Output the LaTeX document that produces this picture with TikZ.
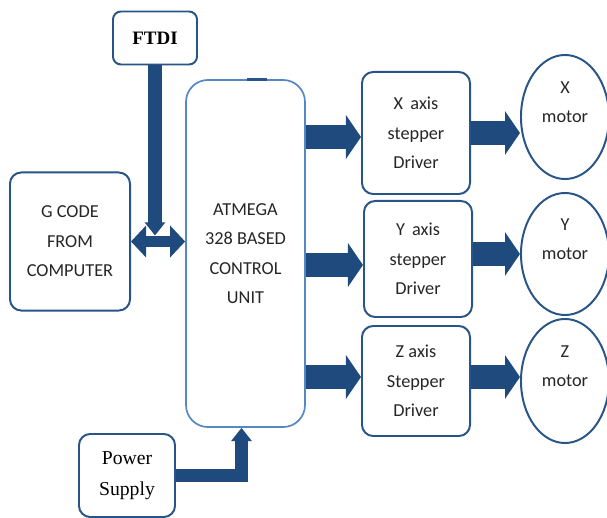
\documentclass[tikz,border=0pt]{standalone}
\usepackage{fontspec}
\setmainfont{Liberation Serif}
\setsansfont{Carlito}
\usetikzlibrary{arrows.meta,shapes.geometric}
\definecolor{bxblue}{rgb}{0.16,0.33,0.53}
\definecolor{cublue}{rgb}{0.33,0.53,0.77}
\definecolor{arblue}{rgb}{0.12,0.29,0.49}
\definecolor{txtgray}{rgb}{0.15,0.15,0.15}

\begin{document}
\begin{tikzpicture}[x=0.025cm,y=-0.025cm,
box/.style={draw=bxblue,line width=1.4pt,rounded corners=0.28cm,fill=white,align=center,text=txtgray,inner sep=0pt,font=\sffamily\fontsize{13}{21}\selectfont},
motor/.style={box,ellipse,sharp corners},
fat/.style={arblue,line width=0.6cm,-{Triangle[length=0.375cm,width=1.075cm]}},
both/.style={arblue,line width=0.275cm,{Triangle[length=0.375cm,width=0.775cm]}-{Triangle[length=0.375cm,width=0.775cm]}},
slim/.style={arblue,line width=0.34cm,-{Triangle[length=0.33cm,width=0.5cm]}}]
\useasboundingbox (0,0) rectangle (607,518);
\clip (0,0) rectangle (607,518);
% blocks
\node[box,minimum width=2.1cm,minimum height=1.325cm,rounded corners=0.2cm,font=\rmfamily\bfseries\fontsize{13.5}{16}\selectfont,text=black] (ftdi) at (155,38) {FTDI};
\node[box,minimum width=3cm,minimum height=3.45cm] (gcode) at (70,241.5) {G CODE\\FROM\\COMPUTER};
\node[box,draw=cublue,line width=1.2pt,rounded corners=0.55cm,minimum width=2.975cm,minimum height=8.675cm] (atm) at (245.5,253.5) {ATMEGA\\328 BASED\\CONTROL\\UNIT};
\fill[bxblue] (247,78) rectangle (267,81);
\node[box,minimum width=2.4cm,minimum height=2.075cm,font=\rmfamily\fontsize{14}{22}\selectfont,text=black] (pwr) at (127,475.5) {Power\\Supply};
\node[box,minimum width=2.7cm,minimum height=3.05cm] (xdrv) at (416,133) {X\,\ axis\\stepper\\Driver};
\node[box,minimum width=2.7cm,minimum height=2.9cm] (ydrv) at (418,259) {Y\,\ axis\\stepper\\Driver};
\node[box,minimum width=2.7cm,minimum height=2.75cm] (zdrv) at (416,381) {Z axis\\Stepper\\Driver};
\node[motor,minimum width=2.2cm,minimum height=3.1cm] (xm) at (565,117) {X\\motor\\\mbox{}};
\node[motor,minimum width=2.2cm,minimum height=3.05cm] (ym) at (565,254) {Y\\motor\\\mbox{}};
\node[motor,minimum width=2.2cm,minimum height=3.1cm] (zm) at (565,381) {Z\\motor\\\mbox{}};
% arrows
\draw[fat] ([yshift=-0.1cm]xdrv.west -| atm.east) -- ([yshift=-0.1cm]xdrv.west);
\draw[fat] ([yshift=-0.15cm]ydrv.west -| atm.east) -- ([yshift=-0.15cm]ydrv.west);
\draw[fat] ([yshift=0.1cm]zdrv.west -| atm.east) -- ([yshift=0.1cm]zdrv.west);
\draw[fat] (xdrv.east) -- (xdrv.east -| xm.west);
\draw[fat] (ydrv.east |- ym.west) -- (ym.west);
\draw[fat] ([yshift=0.1cm]zdrv.east) -- ([yshift=0.1cm]zdrv.east -| zm.west);
\draw[both] (gcode.east) -- (gcode.east -| atm.west);
\draw[slim] (ftdi.south) -- ([yshift=0.15cm]ftdi.south |- gcode.east);
\draw[slim,line width=0.325cm] (pwr.east) -| ([xshift=-0.1cm]atm.south);
\end{tikzpicture}
\end{document}
